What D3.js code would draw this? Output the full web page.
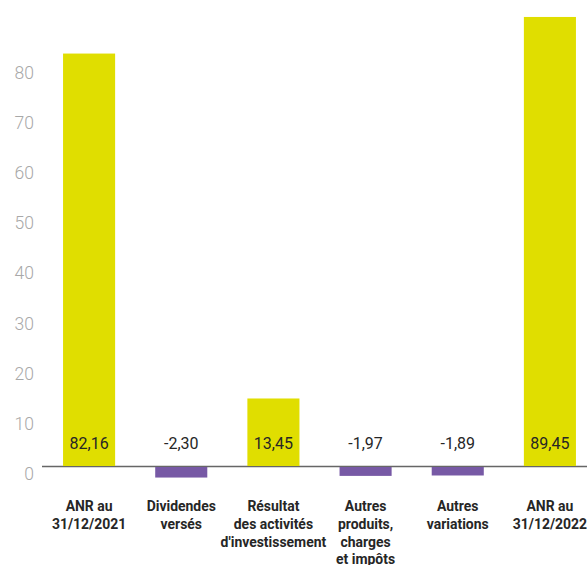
<!DOCTYPE html>
<html>
<head>
<meta charset="utf-8">
<script src="https://cdn.jsdelivr.net/npm/d3@7/dist/d3.min.js"></script>
<style>
  html, body { margin: 0; padding: 0; background: #fff; }
  svg { display: block; }
</style>
</head>
<body>
<script>
// Variation de l'ANR par action (EUR)
const categories = [
  ["ANR au", "31/12/2021"],
  ["Dividendes", "versés"],
  ["Résultat", "des activités", "d'investissement"],
  ["Autres", "produits,", "charges", "et impôts"],
  ["Autres", "variations"],
  ["ANR au", "31/12/2022"]
];
const values = [82.16, -2.30, 13.45, -1.97, -1.89, 89.45];
const valueLabels = ["82,16", "-2,30", "13,45", "-1,97", "-1,89", "89,45"];
const yTicks = [0, 10, 20, 30, 40, 50, 60, 70, 80];

const W = 587, H = 565;
const svg = d3.select("body").append("svg").attr("width", W).attr("height", H);

const x = d3.scaleBand()
  .domain(d3.range(values.length))
  .range([43, 596])
  .paddingInner(0.435)
  .paddingOuter(0.2175);

const y = d3.scaleLinear().domain([0, 80]).range([466, 64.4]);

// tick labels (no gridlines)
const yAxis = d3.axisLeft(y).tickValues(yTicks).tickSize(0).tickPadding(0).tickFormat(d3.format("d"));
const gy = svg.append("g").attr("transform", "translate(34,8)").call(yAxis);
gy.select(".domain").remove();
gy.selectAll("text")
  .attr("fill", "#a8a8a8")
  .style("font-family", "Roboto, 'Noto Sans', sans-serif")
  .style("font-weight", 300)
  .style("font-size", "17.5px");

// baseline
svg.append("line")
  .attr("x1", 42).attr("x2", W)
  .attr("y1", y(0) + 0.5).attr("y2", y(0) + 0.5)
  .attr("stroke", "#666").attr("stroke-width", 1.3);

// bars
svg.append("g").selectAll("rect")
  .data(values)
  .join("rect")
  .attr("x", (d, i) => x(i))
  .attr("width", x.bandwidth())
  .attr("y", d => d >= 0 ? y(d) : y(0) + 1)
  .attr("height", d => d >= 0 ? y(0) - y(d) : y(d) - y(0) - 1)
  .attr("fill", d => d >= 0 ? "#e0de00" : "#7759a5");

// value labels just above the baseline
svg.append("g").selectAll("text")
  .data(valueLabels)
  .join("text")
  .attr("x", (d, i) => x(i) + x.bandwidth() / 2)
  .attr("y", 449)
  .attr("text-anchor", "middle")
  .attr("fill", "#262626")
  .style("font-family", "Roboto, 'Noto Sans', sans-serif")
  .style("font-size", "16px")
  .text(d => d);

// category labels
const cg = svg.append("g").selectAll("g")
  .data(categories)
  .join("g")
  .attr("transform", (d, i) => `translate(${x(i) + x.bandwidth() / 2},0) scale(0.9,1)`);
cg.selectAll("text")
  .data(d => d)
  .join("text")
  .attr("x", 0)
  .attr("y", (d, j) => 511 + j * 17.8)
  .attr("text-anchor", "middle")
  .attr("fill", "#262626")
  .style("font-family", "Roboto, 'Noto Sans', sans-serif")
  .style("font-weight", 700)
  .style("font-size", "15.5px")
  .text(d => d);
</script>
</body>
</html>
